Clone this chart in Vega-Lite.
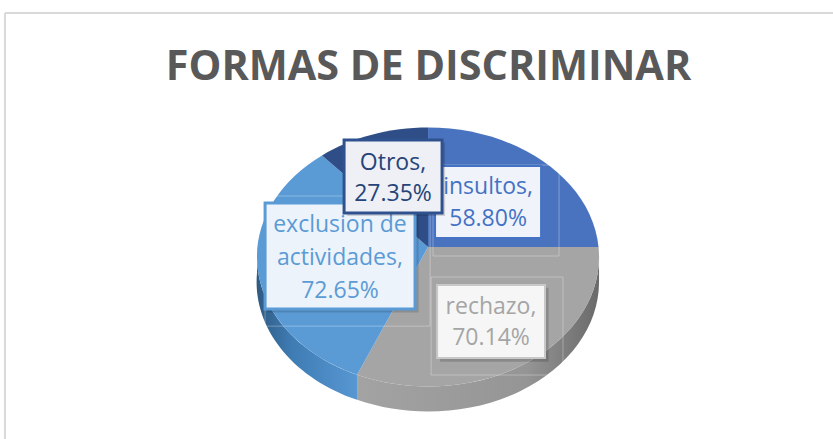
{"$schema":"https://vega.github.io/schema/vega-lite/v6.json","width":833,"height":439,"padding":0,"autosize":{"type":"none"},"background":"white","config":{"view":{"stroke":null}},"title":{"text":"FORMAS DE DISCRIMINAR","font":"Open Sans","fontWeight":"bold","fontSize":41.4,"color":"#595959","anchor":"middle","dx":12,"dy":88,"offset":0},"data":{"values":[{"categoria":"insultos","valor":58.8,"etiqueta":["insultos,","58.80%"]},{"categoria":"rechazo","valor":70.14,"etiqueta":["rechazo,","70.14%"]},{"categoria":"exclusion de actividades","valor":72.65,"etiqueta":["exclusion de","actividades,","72.65%"]},{"categoria":"Otros","valor":27.35,"etiqueta":["Otros,","27.35%"]}]},"resolve":{"scale":{"shape":"independent","fill":"independent"}},"layer":[{"data":{"values":[{}]},"mark":{"type":"rule","stroke":"#d9d9d9","strokeWidth":2},"encoding":{"x":{"datum":-2.474,"type":"quantitative","scale":{"domain":[-2.503,2.368],"nice":false,"zero":false},"axis":null},"y":{"datum":1.427,"type":"quantitative","scale":{"domain":[-1.064,1.503],"nice":false,"zero":false},"axis":null},"y2":{"datum":-1.064}}},{"data":{"values":[{}]},"mark":{"type":"rule","stroke":"#d9d9d9","strokeWidth":2},"encoding":{"x":{"datum":-2.474,"type":"quantitative"},"x2":{"datum":2.368},"y":{"datum":1.427,"type":"quantitative"}}},{"transform":[{"filter":"datum.categoria==='rechazo'"}],"mark":{"type":"point","filled":true,"opacity":1,"strokeWidth":0,"size":116964,"fill":{"x1":0,"y1":0,"x2":1,"y2":0,"gradient":"linear","stops":[{"offset":0,"color":"#a3a3a3"},{"offset":0.7,"color":"#959595"},{"offset":1,"color":"#6a6a6a"}]}},"encoding":{"x":{"datum":0,"type":"quantitative"},"y":{"datum":0,"type":"quantitative"},"shape":{"field":"categoria","legend":null,"scale":{"domain":["rechazo"],"range":["M1,0 A1,.757 0 0 1 -.415,.689 L-.415,.835 A1,.757 0 0 0 1,.146 Z"]}}}},{"transform":[{"filter":"datum.categoria==='exclusion de actividades'"}],"mark":{"type":"point","filled":true,"opacity":1,"strokeWidth":0,"size":116964,"fill":{"x1":0,"y1":0,"x2":1,"y2":0,"gradient":"linear","stops":[{"offset":0,"color":"#2f5a82"},{"offset":0.35,"color":"#3f7cb4"},{"offset":1,"color":"#5797d2"}]}},"encoding":{"x":{"datum":0,"type":"quantitative"},"y":{"datum":0,"type":"quantitative"},"shape":{"field":"categoria","legend":null,"scale":{"domain":["exclusion de actividades"],"range":["M-.415,.689 A1,.757 0 0 1 -1,0 L-1,.09 A1,.757 0 0 0 -.415,.835 Z"]}}}},{"mark":{"type":"point","filled":true,"opacity":1,"strokeWidth":0,"size":116964},"encoding":{"x":{"datum":0,"type":"quantitative"},"y":{"datum":0,"type":"quantitative"},"fill":{"field":"categoria","legend":null,"scale":{"domain":["insultos","rechazo","exclusion de actividades","Otros"],"range":["#4a73bf","#a5a5a5","#5b9bd5","#2f4e88"]}},"shape":{"field":"categoria","legend":null,"scale":{"domain":["insultos","rechazo","exclusion de actividades","Otros"],"range":["M0,-.058 L0,-.757 A1,.757 0 0 1 .997,-.058 Z","M0,-.058 L.997,-.058 A1,.757 0 0 1 -.415,.689 Z","M0,-.058 L-.415,.689 A1,.757 0 0 1 -.62,-.594 Z","M0,-.058 L-.62,-.594 A1,.757 0 0 1 0,-.757 Z"]}}}},{"transform":[{"filter":"datum.categoria==='exclusion de actividades'"}],"mark":{"type":"rect","fill":null,"stroke":"white","strokeOpacity":0.3,"strokeWidth":1},"encoding":{"x":{"datum":-0.953,"type":"quantitative"},"x2":{"datum":0.012},"y":{"datum":0.357,"type":"quantitative"},"y2":{"datum":-0.404}}},{"transform":[{"filter":"datum.categoria==='insultos'"}],"mark":{"type":"rect","fill":null,"stroke":"white","strokeOpacity":0.3,"strokeWidth":1},"encoding":{"x":{"datum":0.029,"type":"quantitative"},"x2":{"datum":0.766},"y":{"datum":0.538,"type":"quantitative"},"y2":{"datum":0.006}}},{"transform":[{"filter":"datum.categoria==='rechazo'"}],"mark":{"type":"rect","fill":null,"stroke":"white","strokeOpacity":0.3,"strokeWidth":1},"encoding":{"x":{"datum":0.018,"type":"quantitative"},"x2":{"datum":0.789},"y":{"datum":-0.117,"type":"quantitative"},"y2":{"datum":-0.69}}},{"transform":[{"filter":"datum.categoria==='exclusion de actividades'"}],"mark":{"type":"rect","fill":"black","fillOpacity":0.14},"encoding":{"x":{"datum":-0.94,"type":"quantitative"},"x2":{"datum":-0.055},"y":{"datum":0.3,"type":"quantitative"},"y2":{"datum":-0.325}}},{"transform":[{"filter":"datum.categoria==='exclusion de actividades'"}],"mark":{"type":"rect","fill":"#edf3fb","stroke":"#5b9bd5","strokeWidth":3},"encoding":{"x":{"datum":-0.953,"type":"quantitative"},"x2":{"datum":-0.076},"y":{"datum":0.316,"type":"quantitative"},"y2":{"datum":-0.304}}},{"transform":[{"filter":"datum.categoria==='exclusion de actividades'"}],"mark":{"type":"text","font":"Open Sans","fontSize":23,"lineHeight":33,"baseline":"middle","align":"center","color":"#5b9bd5"},"encoding":{"text":{"field":"etiqueta"},"x":{"datum":-0.515,"type":"quantitative"},"y":{"datum":0.187,"type":"quantitative"}}},{"transform":[{"filter":"datum.categoria==='rechazo'"}],"mark":{"type":"rect","fill":"black","fillOpacity":0.16},"encoding":{"x":{"datum":0.07,"type":"quantitative"},"x2":{"datum":0.705},"y":{"datum":-0.18,"type":"quantitative"},"y2":{"datum":-0.612}}},{"transform":[{"filter":"datum.categoria==='rechazo'"}],"mark":{"type":"rect","fill":"#f6f6f6","stroke":"#c8c8c8","strokeWidth":2},"encoding":{"x":{"datum":0.053,"type":"quantitative"},"x2":{"datum":0.684},"y":{"datum":-0.164,"type":"quantitative"},"y2":{"datum":-0.591}}},{"transform":[{"filter":"datum.categoria==='rechazo'"}],"mark":{"type":"text","font":"Open Sans","fontSize":23,"lineHeight":31,"baseline":"middle","align":"center","color":"#a5a5a5"},"encoding":{"text":{"field":"etiqueta"},"x":{"datum":0.368,"type":"quantitative"},"y":{"datum":-0.292,"type":"quantitative"}}},{"transform":[{"filter":"datum.categoria==='insultos'"}],"mark":{"type":"rect","fill":"#f0f3fa","stroke":"#4472c4","strokeWidth":2},"encoding":{"x":{"datum":0.041,"type":"quantitative"},"x2":{"datum":0.661},"y":{"datum":0.532,"type":"quantitative"},"y2":{"datum":0.111}}},{"transform":[{"filter":"datum.categoria==='insultos'"}],"mark":{"type":"text","font":"Open Sans","fontSize":23,"lineHeight":32,"baseline":"middle","align":"center","color":"#4472c4"},"encoding":{"text":{"field":"etiqueta"},"x":{"datum":0.351,"type":"quantitative"},"y":{"datum":0.409,"type":"quantitative"}}},{"transform":[{"filter":"datum.categoria==='Otros'"}],"mark":{"type":"rect","fill":"black","fillOpacity":0.14},"encoding":{"x":{"datum":-0.475,"type":"quantitative"},"x2":{"datum":0.1},"y":{"datum":0.67,"type":"quantitative"},"y2":{"datum":0.24}}},{"transform":[{"filter":"datum.categoria==='Otros'"}],"mark":{"type":"rect","fill":"#eef0f6","stroke":"#2f528f","strokeWidth":3},"encoding":{"x":{"datum":-0.491,"type":"quantitative"},"x2":{"datum":0.082},"y":{"datum":0.684,"type":"quantitative"},"y2":{"datum":0.257}}},{"transform":[{"filter":"datum.categoria==='Otros'"}],"mark":{"type":"text","font":"Open Sans","fontSize":23,"lineHeight":31,"baseline":"middle","align":"center","color":"#264478"},"encoding":{"text":{"field":"etiqueta"},"x":{"datum":-0.205,"type":"quantitative"},"y":{"datum":0.55,"type":"quantitative"}}}]}
